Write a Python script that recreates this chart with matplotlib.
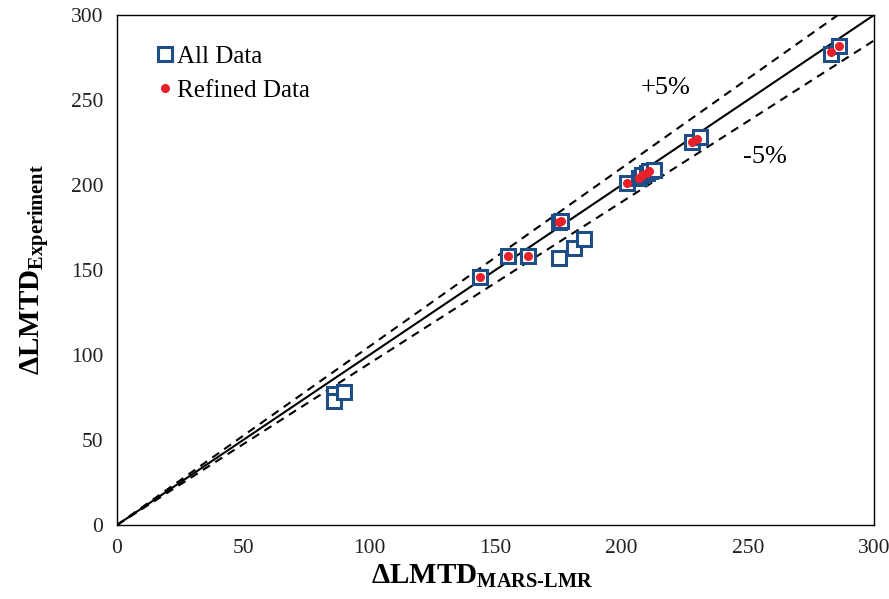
import matplotlib
matplotlib.use("Agg")
import matplotlib.pyplot as plt
import numpy as np

all_x = [86, 86, 90, 144, 155, 163, 175, 181, 185, 175, 176, 202, 207, 208, 210, 211, 213, 228, 231, 283, 286]
all_y = [77, 73, 78, 146, 158, 158, 157, 163, 168, 178, 179, 201, 204, 206, 207, 208, 209, 225, 228, 277, 282]
ref_x = [144, 155, 163, 175, 176, 202, 207, 208, 210, 211, 228, 230, 283, 286]
ref_y = [146, 158, 158, 178, 179, 201, 204, 206, 207, 208, 225, 227, 278, 282]
ticks = [0, 50, 100, 150, 200, 250, 300]

plt.rcParams['font.family'] = ['Liberation Serif', 'DejaVu Serif']
plt.rcParams['mathtext.fontset'] = 'custom'
plt.rcParams['mathtext.rm'] = 'Liberation Serif'
plt.rcParams['mathtext.bf'] = 'Liberation Serif:bold'
plt.rcParams['mathtext.it'] = 'Liberation Serif:italic'

fig = plt.figure(figsize=(8.89, 5.99), dpi=100)
ax = fig.add_axes([117/889, 74/599, 757/889, 510/599])

line = np.array([0, 300])
ax.plot(line, line, color='black', lw=1.5, zorder=1)
ax.plot(line, line * 1.05, color='black', lw=1.5, ls=(0, (4, 3)), zorder=1)
ax.plot(line, line * 0.95, color='black', lw=1.5, ls=(0, (4, 3)), zorder=1)

ax.plot(all_x, all_y, ls='none', marker='s', ms=10.5, mfc='white', mec='#1F4E87', mew=2.2,
        label='All Data', zorder=2)
ax.plot(ref_x, ref_y, ls='none', marker='o', ms=5.5, mfc='#E8202A', mec='#E8202A',
        label='Refined Data', zorder=3)

ax.set_xlim(0, 300)
ax.set_ylim(0, 300)
ax.set_xticks(ticks)
ax.set_yticks(ticks)
ax.tick_params(length=0, labelsize=15.5, pad=10, labelcolor='#222222')
for s in ax.spines.values():
    s.set_linewidth(1.0)

fig.text(666/889, 1 - 88/599, '+5%', fontsize=19, ha='center', va='center')
fig.text(765/889, 1 - 157/599, '-5%', fontsize=19, ha='center', va='center')

ax.set_xlabel(r'$\mathbf{\Delta LMTD_{MARS\text{-}LMR}}$', fontsize=21)
ax.xaxis.set_label_coords(0.483, -0.075)
ax.set_ylabel(r'$\mathbf{\Delta LMTD_{Experiment}}$', fontsize=21, labelpad=14)

leg = ax.legend(loc='upper left', frameon=False, fontsize=18, handletextpad=0.0,
                bbox_to_anchor=(0.04, 0.95), borderaxespad=0.0, borderpad=0.2,
                labelspacing=0.45, handlelength=1.0)

fig.savefig('out.png', dpi=100)
